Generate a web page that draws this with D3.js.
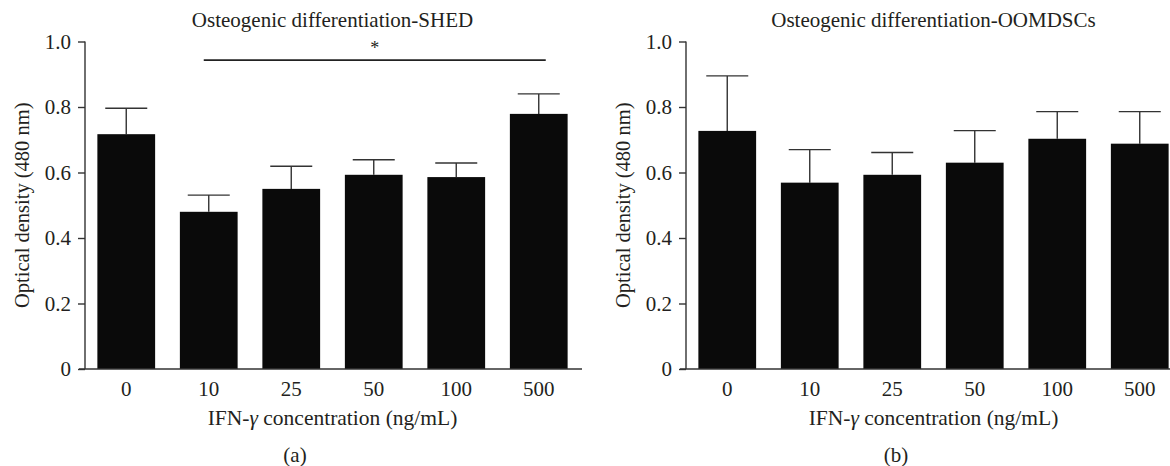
<!DOCTYPE html>
<html>
    <head>
        <script src="https://d3js.org/d3.v7.min.js"></script>
        <style>
            body { margin: 0; background: #fff; }
            text { font-family: "Liberation Serif", "Times New Roman", serif; fill: #231f20; }
            .axis path, .axis line { stroke: #333; stroke-width: 1.4; fill: none; }
            .axis text { font-size: 21px; font-family: "Liberation Serif", serif; }
        </style>
    </head>
    <body>
        <div id="chart"></div>
    </body>
    <script>
        var concentrations = ["0", "10", "25", "50", "100", "500"];
        var yTicks = [0, 0.2, 0.4, 0.6, 0.8, 1.0];

        // SHED
        var shedMean = [0.717, 0.480, 0.550, 0.593, 0.586, 0.779];
        var shedSd   = [0.079, 0.051, 0.069, 0.046, 0.043, 0.061];
        // OOMDSCs
        var oomMean = [0.727, 0.569, 0.593, 0.630, 0.703, 0.688];
        var oomSd   = [0.168, 0.101, 0.068, 0.098, 0.083, 0.098];

        // significance bar: from 10 to 500, at 0.943
        var sigPair = ["10", "500"];
        var sigLevel = 0.943;

        var width = 1170, height = 466;
        var plotTop = 41.5, plotBottom = 369;
        var step = 82.5;

        var svg = d3.select("#chart").append("svg")
            .attr("width", width)
            .attr("height", height);

        var panels = [
            {title: "Osteogenic differentiation-SHED", mean: shedMean, sd: shedSd, left: 85, tag: "(a)", sig: true},
            {title: "Osteogenic differentiation-OOMDSCs", mean: oomMean, sd: oomSd, left: 686, tag: "(b)", sig: false}
        ];

        panels.forEach(function(p) {
            var x = d3.scaleBand()
                .domain(concentrations)
                .range([p.left, p.left + step * concentrations.length])
                .paddingInner(0.3)
                .paddingOuter(0.15);
            var y = d3.scaleLinear().domain([0, 1]).range([plotBottom, plotTop]);

            var g = svg.append("g");
            var data = concentrations.map(function(c, i) {
                return {c: c, m: p.mean[i], sd: p.sd[i]};
            });

            // error bars (upper only)
            var capHalf = 21;
            g.selectAll(".stem").data(data).enter().append("line")
                .attr("x1", function(d) { return x(d.c) + x.bandwidth() / 2; })
                .attr("x2", function(d) { return x(d.c) + x.bandwidth() / 2; })
                .attr("y1", function(d) { return y(d.m); })
                .attr("y2", function(d) { return y(d.m + d.sd); })
                .style("stroke", "#333").style("stroke-width", 1.4);
            g.selectAll(".cap").data(data).enter().append("line")
                .attr("x1", function(d) { return x(d.c) + x.bandwidth() / 2 - capHalf; })
                .attr("x2", function(d) { return x(d.c) + x.bandwidth() / 2 + capHalf; })
                .attr("y1", function(d) { return y(d.m + d.sd); })
                .attr("y2", function(d) { return y(d.m + d.sd); })
                .style("stroke", "#333").style("stroke-width", 1.4);

            // bars
            g.selectAll(".bar").data(data).enter().append("rect")
                .attr("x", function(d) { return x(d.c); })
                .attr("y", function(d) { return y(d.m); })
                .attr("width", x.bandwidth())
                .attr("height", function(d) { return y(0) - y(d.m); })
                .style("fill", "#0a0a0a");

            // y axis
            var yAxis = d3.axisLeft(y)
                .tickValues(yTicks)
                .tickSize(7)
                .tickPadding(7)
                .tickFormat(function(d) { return d === 0 ? "0" : d3.format(".1f")(d); });
            var ya = g.append("g")
                .attr("class", "axis")
                .attr("transform", "translate(" + p.left + ",0)")
                .call(yAxis)
                .attr("font-family", "Liberation Serif");
            ya.select(".domain").attr("d", "M0," + y(1) + "V" + y(0));

            // x axis: line + labels, no ticks
            var xAxis = d3.axisBottom(x).tickSize(0).tickPadding(12);
            var xa = g.append("g")
                .attr("class", "axis")
                .attr("transform", "translate(0," + y(0) + ")")
                .call(xAxis)
                .attr("font-family", "Liberation Serif");
            xa.select(".domain").attr("d", "M" + (p.left - 6) + ",0H" + (x.range()[1] + 2));

            // titles
            var cx = (x.range()[0] + x.range()[1]) / 2;
            g.append("text")
                .attr("x", cx).attr("y", 27)
                .attr("text-anchor", "middle")
                .style("font-size", "21px")
                .text(p.title);

            g.append("text")
                .attr("text-anchor", "middle")
                .attr("transform", "translate(" + (p.left - 56) + "," + ((y(0) + y(1)) / 2) + ") rotate(-90)")
                .style("font-size", "20.5px")
                .text("Optical density (480 nm)");

            var xl = g.append("text")
                .attr("x", cx).attr("y", 425)
                .attr("text-anchor", "middle")
                .style("font-size", "21.5px");
            xl.append("tspan").text("IFN-");
            xl.append("tspan").style("font-style", "italic").text("\u03b3");
            xl.append("tspan").text(" concentration (ng/mL)");

            g.append("text")
                .attr("x", (p.left - 75 + x.range()[1]) / 2).attr("y", 462)
                .attr("text-anchor", "middle")
                .style("font-size", "21px")
                .text(p.tag);

            if (p.sig) {
                var x1 = x(sigPair[0]) + x.bandwidth() / 2 - 5;
                var x2 = x(sigPair[1]) + x.bandwidth() / 2 + 7;
                g.append("line")
                    .attr("x1", x1).attr("x2", x2)
                    .attr("y1", y(sigLevel)).attr("y2", y(sigLevel))
                    .style("stroke", "#222").style("stroke-width", 1.6);
                g.append("text")
                    .attr("x", (x1 + x2) / 2).attr("y", y(sigLevel) - 6)
                    .attr("text-anchor", "middle")
                    .style("font-size", "18px")
                    .text("*");
            }
        });
    </script>
</html>
